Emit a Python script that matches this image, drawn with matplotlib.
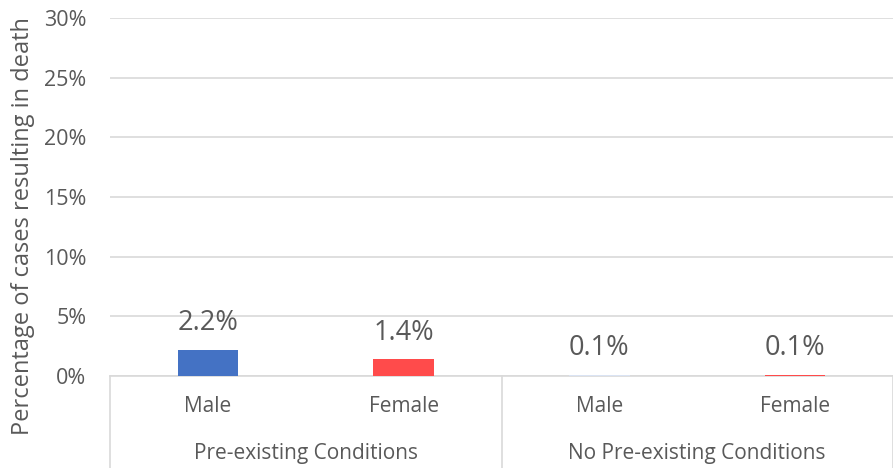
import matplotlib
matplotlib.use("Agg")
import matplotlib.pyplot as plt
from matplotlib.transforms import blended_transform_factory

groups = ["Pre-existing Conditions", "No Pre-existing Conditions"]
sexes = ["Male", "Female", "Male", "Female"]
values = [2.2, 1.4, 0.1, 0.1]
labels = ["2.2%", "1.4%", "0.1%", "0.1%"]
colors = ["#4472C4", "#FF4B4B", "#DAE3F3", "#FF4B4B"]
yticks = [0, 5, 10, 15, 20, 25, 30]

plt.rcParams['font.family'] = ['Open Sans', 'DejaVu Sans']
txt = "#595959"
grid = "#D9D9D9"

fig = plt.figure(figsize=(8.93, 4.68), dpi=100)
ax = fig.add_axes([110/893, 1-376/468, 783/893, (376-18)/468])

x = list(range(len(values)))
ax.bar(x, values, width=0.31, color=colors, zorder=3)
for xi, v, lab in zip(x, values, labels):
    ax.annotate(lab, (xi, v), xytext=(0, 9), textcoords="offset points",
                ha="center", va="bottom", fontsize=19.5, color=txt)

ax.set_xlim(-0.5, 3.5)
ax.set_ylim(0, 30)
ax.set_yticks(yticks)
ax.set_yticklabels([f"{t}%" for t in yticks], fontsize=15.5, color=txt)
ax.tick_params(axis="y", length=0, pad=17)
ax.tick_params(axis="x", length=0, labelbottom=False)
ax.grid(axis="y", color=grid, linewidth=1.2, zorder=0)
for s in ["top", "right", "left"]:
    ax.spines[s].set_visible(False)
ax.spines["bottom"].set_color(grid)
ax.spines["bottom"].set_linewidth(1.2)

fig.text(23/893, 1-226/468, "Percentage of cases resulting in death", rotation=90,
         ha="center", va="center", fontsize=17, color=txt)

trans = blended_transform_factory(ax.transData, fig.transFigure)
for xi, s in zip(x, sexes):
    ax.text(xi, 1-407/468, s, transform=trans, ha="center", va="center",
            fontsize=15, color=txt)
for gi, g in enumerate(groups):
    ax.text(gi*2 + 0.5, 1-453/468, g, transform=trans, ha="center", va="center",
            fontsize=15, color=txt)

for xs in [-0.5, 1.5, 3.5]:
    ax.plot([xs, xs], [1-376/468, 0], transform=trans, color=grid,
            linewidth=1.2, clip_on=False)

fig.savefig("out.png", dpi=100)
